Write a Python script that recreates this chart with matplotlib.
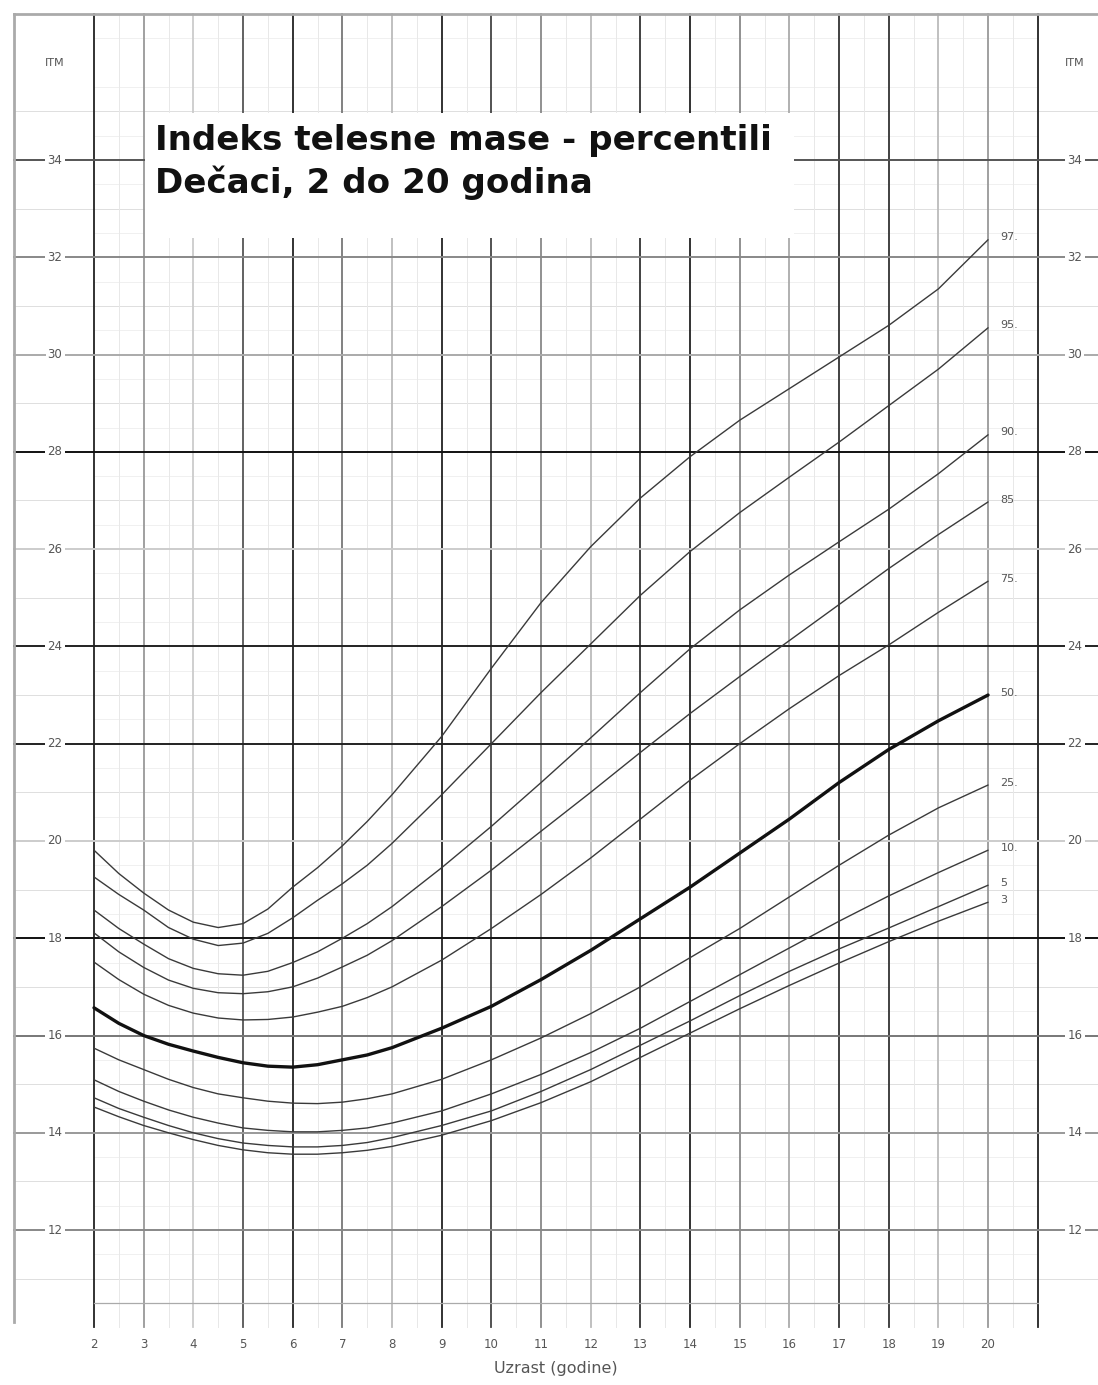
import matplotlib
matplotlib.use("Agg")
import matplotlib.pyplot as plt
from matplotlib.patches import Rectangle

# --- data (BMI, boys 2-20 y) ---
ages = [2, 2.5, 3, 3.5, 4, 4.5, 5, 5.5, 6, 6.5, 7, 7.5, 8,
        9, 10, 11, 12, 13, 14, 15, 16, 17, 18, 19, 20]

p97 = [19.81, 19.33, 18.93, 18.58, 18.33, 18.22, 18.30, 18.60, 19.05, 19.45, 19.90, 20.40, 20.95,
       22.15, 23.55, 24.90, 26.05, 27.05, 27.90, 28.65, 29.30, 29.95, 30.60, 31.35, 32.36]
p95 = [19.26, 18.90, 18.58, 18.22, 17.98, 17.85, 17.90, 18.10, 18.42, 18.78, 19.12, 19.50, 19.95,
       20.95, 22.00, 23.05, 24.05, 25.05, 25.95, 26.75, 27.48, 28.20, 28.95, 29.70, 30.55]
p90 = [18.58, 18.20, 17.88, 17.58, 17.38, 17.27, 17.24, 17.32, 17.50, 17.72, 18.00, 18.30, 18.65,
       19.45, 20.30, 21.20, 22.12, 23.05, 23.95, 24.75, 25.47, 26.15, 26.82, 27.55, 28.35]
p85 = [18.11, 17.72, 17.40, 17.14, 16.97, 16.88, 16.86, 16.90, 17.00, 17.18, 17.41, 17.65, 17.95,
       18.65, 19.40, 20.20, 21.00, 21.82, 22.62, 23.38, 24.12, 24.86, 25.60, 26.30, 26.97]
p75 = [17.51, 17.15, 16.85, 16.62, 16.46, 16.36, 16.32, 16.33, 16.38, 16.48, 16.60, 16.78, 17.00,
       17.55, 18.20, 18.90, 19.65, 20.45, 21.25, 22.00, 22.72, 23.40, 24.03, 24.70, 25.34]
p50 = [16.57, 16.25, 16.00, 15.82, 15.68, 15.55, 15.44, 15.37, 15.35, 15.40, 15.50, 15.60, 15.75,
       16.15, 16.60, 17.15, 17.75, 18.40, 19.05, 19.75, 20.45, 21.20, 21.88, 22.47, 23.00]
p25 = [15.74, 15.50, 15.30, 15.10, 14.93, 14.80, 14.72, 14.65, 14.61, 14.60, 14.63, 14.70, 14.80,
       15.10, 15.50, 15.95, 16.45, 17.00, 17.60, 18.20, 18.85, 19.50, 20.12, 20.68, 21.15]
p10 = [15.09, 14.85, 14.65, 14.47, 14.32, 14.20, 14.10, 14.05, 14.02, 14.02, 14.05, 14.10, 14.20,
       14.45, 14.80, 15.20, 15.65, 16.15, 16.70, 17.25, 17.80, 18.35, 18.87, 19.35, 19.81]
p5 = [14.72, 14.50, 14.32, 14.15, 14.00, 13.88, 13.79, 13.74, 13.71, 13.71, 13.74, 13.80, 13.90,
      14.15, 14.45, 14.85, 15.30, 15.80, 16.30, 16.82, 17.32, 17.78, 18.21, 18.65, 19.09]
p3 = [14.53, 14.33, 14.15, 14.00, 13.86, 13.74, 13.65, 13.59, 13.56, 13.56, 13.59, 13.64, 13.72,
      13.95, 14.25, 14.62, 15.05, 15.55, 16.05, 16.55, 17.03, 17.49, 17.93, 18.35, 18.74]

curves = [p97, p95, p90, p85, p75, p50, p25, p10, p5, p3]
curve_labels = ["97.", "95.", "90.", "85", "75.", "50.", "25.", "10.", "5", "3"]

year_ticks = list(range(2, 21))
bmi_ticks = list(range(12, 35, 2))

title_1 = "Indeks telesne mase - percentili"
title_2 = "Dečaci, 2 do 20 godina"
x_title = "Uzrast (godine)"
y_title = "ITM"

# --- scanned-grid look: shade of each yearly line 2..21 and each even BMI line 12..34 ---
year_line_shade = ["#222", "#999", "#ccc", "#555", "#222", "#777", "#bbb", "#222", "#444", "#888",
                   "#bbb", "#333", "#222", "#888", "#aaa", "#333", "#333", "#bbb", "#999", "#222"]
bmi_line_shade = ["#888", "#999", "#777", "#111", "#ccc", "#222", "#222", "#ccc", "#111", "#aaa",
                  "#888", "#555"]

# pixel geometry of the reference: 49.67 px per year, 48.64 px per BMI unit
PX_X, PX_Y = 49.67, 48.64
x_lo = 2 - 94 / PX_X
x_hi = x_lo + 1098 / PX_X
y_hi = 34 + 160 / PX_Y
y_lo = y_hi - 1385 / PX_Y
frame_left = 2 - 80 / PX_X
frame_right = 21.0
y_top, y_bottom_grid, y_line_end = 37.0, 10.5, 10.0

fig = plt.figure(figsize=(10.98, 13.85), dpi=100)
ax = fig.add_axes([0, 0, 1, 1])
ax.set_xlim(x_lo, x_hi)
ax.set_ylim(y_lo, y_hi)
ax.axis("off")

# fine grid (faint, as on the scan)
for k in range(0, 54):
    yv = 10.5 + 0.5 * k
    if yv % 2 == 0:
        continue
    if yv % 1 == 0:
        ax.plot([frame_left, x_hi], [yv, yv], color="#dedede", lw=0.7, zorder=1)
    else:
        ax.plot([2, frame_right], [yv, yv], color="#eeeeee", lw=0.6, zorder=1)
for k in range(0, 38):
    xv = 2 + 0.5 * k
    if xv % 1 == 0:
        continue
    ax.plot([xv, xv], [y_line_end, y_top], color="#e8e8e8", lw=0.7, zorder=1)

# main grid
for yr, shade in zip(range(2, 22), year_line_shade):
    ax.plot([yr, yr], [y_line_end, y_top], color=shade, lw=1.3, zorder=2)
for val, shade in zip(bmi_ticks, bmi_line_shade):
    ax.plot([frame_left, x_hi], [val, val], color=shade, lw=1.4, zorder=2)
ax.plot([frame_left, frame_left], [y_line_end + 0.1, y_top], color="#aaa", lw=2.0, zorder=2)
ax.plot([frame_left, x_hi], [y_top, y_top], color="#aaa", lw=2.0, zorder=2)
ax.plot([2, frame_right], [y_bottom_grid, y_bottom_grid], color="#aaa", lw=0.9, zorder=2)

# title panel
ax.add_patch(Rectangle((3.03, 32.4), 13.07, 2.57, facecolor="white", edgecolor="none", zorder=3))
ax.text(3.23, 34.41, title_1, fontsize=24.6, fontweight="bold", family="DejaVu Sans",
        color="#111", ha="left", va="center", zorder=4)
ax.text(3.23, 33.53, title_2, fontsize=24.6, fontweight="bold", family="DejaVu Sans",
        color="#111", ha="left", va="center", zorder=4)

# percentile curves
for vals, lab in zip(curves, curve_labels):
    heavy = lab.startswith("50")
    ax.plot(ages, vals, color="#111" if heavy else "#3a3a3a", lw=2.4 if heavy else 1.0,
            solid_joinstyle="round", solid_capstyle="round", zorder=5)
    ax.text(20.25, vals[-1] + 0.05, lab, fontsize=8, color="#555", ha="left", va="center", zorder=5)

# axis labels
box = dict(facecolor="white", edgecolor="none", pad=1.5)
for val in bmi_ticks:
    ax.text(1.215, val, str(val), fontsize=8.5, color="#555", ha="center", va="center", bbox=box, zorder=4)
    ax.text(21.75, val, str(val), fontsize=8.5, color="#555", ha="center", va="center", bbox=box, zorder=4)
ax.text(1.215, 36.0, y_title, fontsize=8, color="#555", ha="center", va="center", bbox=box, zorder=4)
ax.text(21.75, 36.0, y_title, fontsize=8, color="#555", ha="center", va="center", bbox=box, zorder=4)
for yr in year_ticks:
    ax.text(yr, 9.64, str(yr), fontsize=8.5, color="#555", ha="center", va="center", zorder=4)
ax.text(11.3, 9.16, x_title, fontsize=11.5, color="#555", ha="center", va="center", zorder=4)

fig.savefig("out.png", dpi=100, facecolor="white")
